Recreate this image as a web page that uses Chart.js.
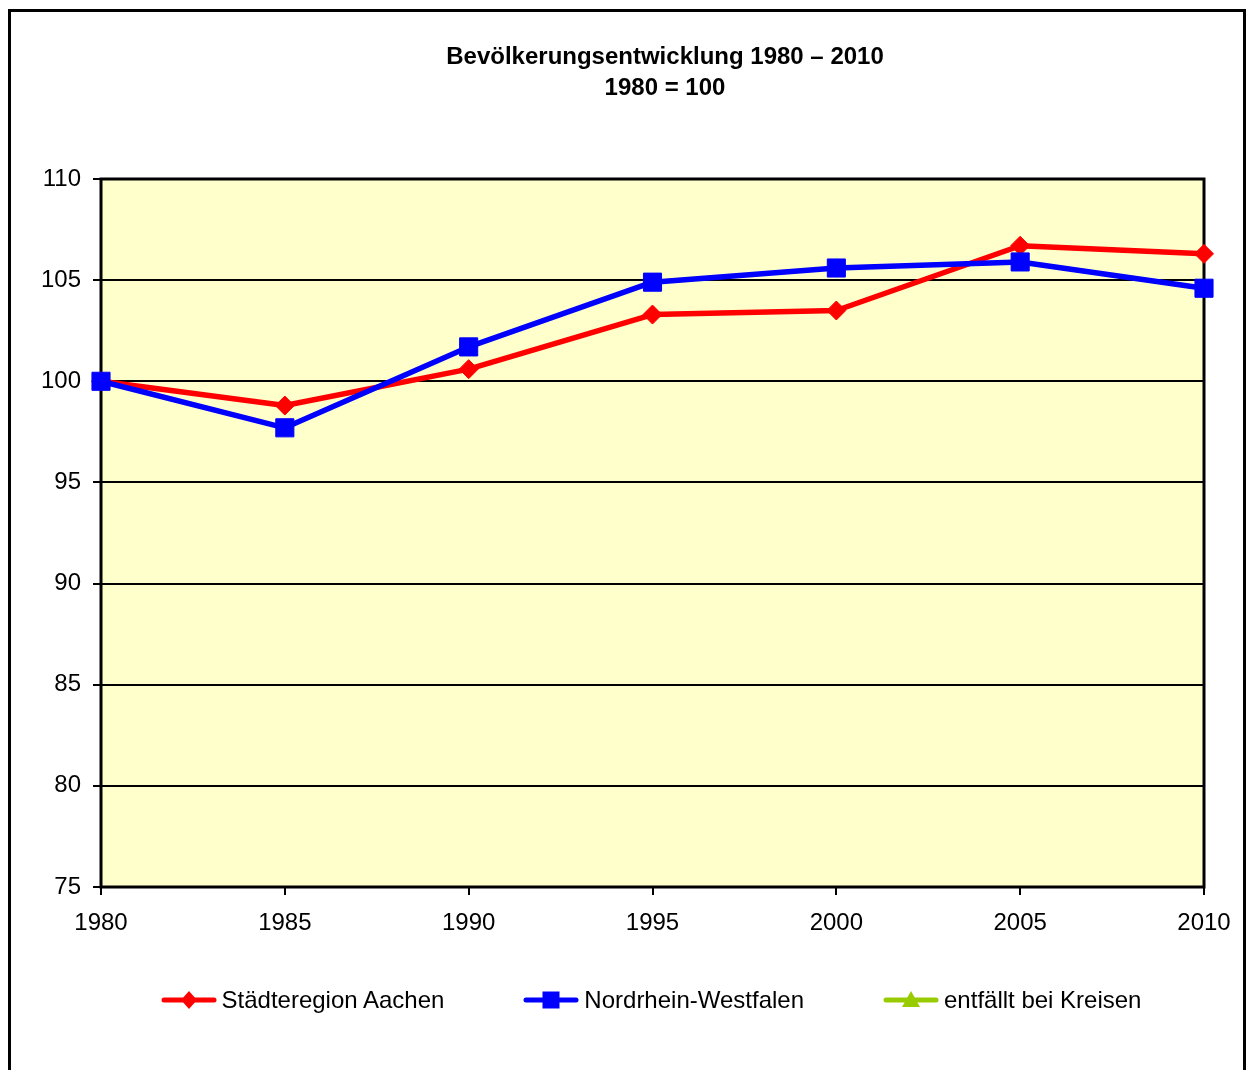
<!DOCTYPE html>
<html>
<head>
<meta charset="utf-8">
<script src="https://cdn.jsdelivr.net/npm/chart.js@4/dist/chart.umd.min.js"></script>
<style>
html, body { margin: 0; padding: 0; overflow: hidden; background: #fff; width: 1247px; height: 1070px; }
#wrap { position: relative; width: 1247px; height: 1070px; overflow: hidden; }
canvas#c { display: block; position: absolute; left: 0; top: 0; }
#legend { position: absolute; left: 0; top: 988px; width: 1302px; height: 24px;
  display: flex; justify-content: center; align-items: center; gap: 79px;
  font-family: 'Liberation Sans', Arial, sans-serif; font-size: 24px; line-height: 24px; color: #000; }
.item { display: flex; align-items: center; white-space: nowrap; }
.item canvas { display: block; margin-right: 5px; }
</style>
</head>
<body>
<div id="wrap">
<canvas id="c" width="1330" height="1070"></canvas>
<div id="legend"></div>
</div>
<script>
const titleLines = ['Bevölkerungsentwicklung 1980 – 2010', '1980 = 100'];
const years = ['1980', '1985', '1990', '1995', '2000', '2005', '2010'];
const aachen = [100, 98.8, 100.6, 103.3, 103.5, 106.7, 106.3];
const nrw = [100, 97.7, 101.7, 104.9, 105.6, 105.9, 104.6];
const kreise = [null, null, null, null, null, null, null];
const seriesNames = ['Städteregion Aachen', 'Nordrhein-Westfalen', 'entfällt bei Kreisen'];
const seriesColors = ['#FF0000', '#0000FF', '#99CC00'];
const yMin = 75, yMax = 110, yStep = 5;

const FONT = "'Liberation Sans', Arial, sans-serif";

function makeIcon(color, shape) {
  const cv = document.createElement('canvas');
  cv.width = 56; cv.height = 24;
  const g = cv.getContext('2d');
  g.strokeStyle = color; g.lineWidth = 5; g.lineCap = 'round';
  g.beginPath(); g.moveTo(3, 12); g.lineTo(53, 12); g.stroke();
  g.fillStyle = color;
  const cx = 28, cy = 12;
  g.beginPath();
  if (shape === 'rectRot') {
    g.moveTo(cx - 8, cy); g.lineTo(cx, cy - 9); g.lineTo(cx + 8, cy); g.lineTo(cx, cy + 9);
  } else if (shape === 'rect') {
    g.rect(cx - 8.5, cy - 8.5, 17, 17);
  } else {
    g.moveTo(cx, cy - 9); g.lineTo(cx + 9, cy + 7); g.lineTo(cx - 9, cy + 7);
  }
  g.closePath(); g.fill();
  return cv;
}

const framePlugin = {
  id: 'frame',
  beforeDraw(chart) {
    const ctx = chart.ctx, a = chart.chartArea;
    ctx.save();
    ctx.fillStyle = '#FFFFFF';
    ctx.fillRect(0, 0, chart.width, chart.height);
    ctx.strokeStyle = '#000'; ctx.lineWidth = 3;
    ctx.strokeRect(9.5, 10.5, 1235, 1100);
    ctx.fillStyle = '#FFFFCC';
    ctx.fillRect(a.left, a.top, a.right - a.left, a.bottom - a.top);
    ctx.restore();
  },
  beforeDatasetsDraw(chart) {
    const ctx = chart.ctx, a = chart.chartArea;
    ctx.save();
    ctx.strokeStyle = '#000'; ctx.lineWidth = 3;
    ctx.strokeRect(a.left, a.top, a.right - a.left, a.bottom - a.top);
    ctx.restore();
  }
};

const htmlLegend = {
  id: 'htmlLegend',
  afterUpdate(chart) {
    const box = document.getElementById('legend');
    box.innerHTML = '';
    chart.data.datasets.forEach(ds => {
      const item = document.createElement('div');
      item.className = 'item';
      item.appendChild(makeIcon(ds.borderColor, ds.pointStyle));
      const span = document.createElement('span');
      span.textContent = ds.label;
      item.appendChild(span);
      box.appendChild(item);
    });
  }
};

new Chart(document.getElementById('c'), {
  type: 'line',
  data: {
    labels: years,
    datasets: [
      { label: seriesNames[0], data: aachen, borderColor: seriesColors[0], backgroundColor: seriesColors[0],
        borderWidth: 5.5, pointStyle: 'rectRot', pointRadius: 9.5, pointBorderWidth: 1,
        pointBorderColor: seriesColors[0], pointBackgroundColor: seriesColors[0], tension: 0, order: 2,
        borderJoinStyle: 'round', borderCapStyle: 'round' },
      { label: seriesNames[1], data: nrw, borderColor: seriesColors[1], backgroundColor: seriesColors[1],
        borderWidth: 5.5, pointStyle: 'rect', pointRadius: 12.8, pointBorderWidth: 1,
        pointBorderColor: seriesColors[1], pointBackgroundColor: seriesColors[1], tension: 0, order: 1,
        borderJoinStyle: 'round', borderCapStyle: 'round' },
      { label: seriesNames[2], data: kreise, borderColor: seriesColors[2], backgroundColor: seriesColors[2],
        borderWidth: 5.5, pointStyle: 'triangle', pointRadius: 9, tension: 0, order: 3 }
    ]
  },
  options: {
    responsive: false,
    animation: false,
    devicePixelRatio: 1,
    events: [],
    layout: { padding: { left: 40, right: 40, top: 10, bottom: 48 } },
    scales: {
      x: {
        type: 'category',
        offset: false,
        grid: { drawOnChartArea: false, color: '#000', lineWidth: 2, tickLength: 8 },
        border: { display: false },
        ticks: { color: '#000', font: { family: FONT, size: 24 }, padding: 14, maxRotation: 0, autoSkip: false },
        afterFit(s) { s.height = 135; }
      },
      y: {
        min: yMin, max: yMax,
        grid: { color: '#000', lineWidth: 2, tickLength: 8 },
        border: { display: false },
        ticks: { stepSize: yStep, color: '#000', font: { family: FONT, size: 24 }, padding: 12 },
        afterFit(s) { s.width = 61; }
      },
      yR: {
        type: 'linear', position: 'right', display: true,
        grid: { display: false }, border: { display: false }, ticks: { display: false },
        afterFit(s) { s.width = 86; }
      }
    },
    plugins: {
      tooltip: { enabled: false },
      legend: { display: false },
      title: {
        display: true,
        text: titleLines,
        color: '#000',
        font: { family: FONT, size: 24, weight: 'bold', lineHeight: '31px' },
        padding: { top: 31.5, bottom: 75.5 }
      }
    }
  },
  plugins: [framePlugin, htmlLegend]
});
</script>
</body>
</html>
